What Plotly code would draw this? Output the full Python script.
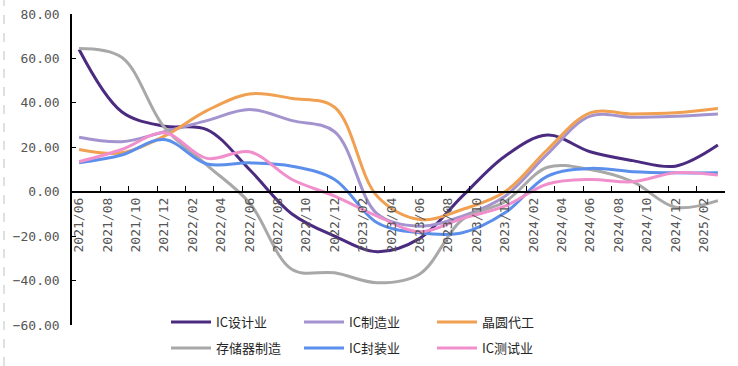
import plotly.graph_objects as go

# monthly category axis (tick labels every 2 months)
months = ["2021/06","2021/07","2021/08","2021/09","2021/10","2021/11","2021/12",
          "2022/01","2022/02","2022/03","2022/04","2022/05","2022/06","2022/07","2022/08","2022/09","2022/10","2022/11","2022/12",
          "2023/01","2023/02","2023/03","2023/04","2023/05","2023/06","2023/07","2023/08","2023/09","2023/10","2023/11","2023/12",
          "2024/01","2024/02","2024/03","2024/04","2024/05","2024/06","2024/07","2024/08","2024/09","2024/10","2024/11","2024/12",
          "2025/01","2025/02","2025/03"]

# quarterly observations
quarters = ["2021/06","2021/09","2021/12","2022/03","2022/06","2022/09","2022/12","2023/03",
            "2023/06","2023/09","2023/12","2024/03","2024/06","2024/09","2024/12","2025/03"]

ic_design   = [64, 36, 29.5, 28, 10, -10, -20, -27, -21, -2, 16, 25.5, 18, 14, 11.5, 21]
ic_mfg      = [24.5, 22.5, 27, 32, 37, 32, 27, -10, -15.5, -11, -2, 17, 34, 33.5, 34, 35]
foundry     = [19, 17.5, 25, 36.5, 44, 42, 38, -2, -12.5, -8, 0, 19, 35.5, 35, 35.5, 37.5]
memory      = [64.5, 60.5, 29, 12, -5, -35, -36.5, -41, -37, -12.5, -4.5, 11, 10, 4.5, -7, -4]
ic_package  = [13, 16.5, 23.5, 12.5, 13, 11.5, 5.5, -14, -18.5, -18.5, -9.5, 7, 10.5, 9, 8.5, 8.5]
ic_test     = [13.5, 19, 26.5, 15, 18, 5.5, -2, -11, -18, -12, -6.5, 3.5, 5.5, 4.5, 8.5, 7.5]

series = [
    ("IC设计业", ic_design, "#4B2B80", "legend"),
    ("IC制造业", ic_mfg, "#A393CF", "legend"),
    ("晶圆代工", foundry, "#F0A050", "legend"),
    ("存储器制造", memory, "#A8A8A8", "legend2"),
    ("IC封装业", ic_package, "#5B8FEB", "legend2"),
    ("IC测试业", ic_test, "#F08FCB", "legend2"),
]

fig = go.Figure()
for name, vals, color, lg in series:
    fig.add_trace(go.Scatter(
        x=quarters, y=vals, name=name, mode="lines",
        line=dict(color=color, width=3, shape="spline", smoothing=1.0),
        legend=lg,
    ))

W, H = 738, 366
tickfont = dict(family="DejaVu Sans Mono", size=13, color="#555555")
legfont = dict(family="Noto Sans CJK SC", size=13, color="#262626")

leg_common = dict(orientation="h", xref="container", yref="container",
                  xanchor="left", yanchor="middle", entrywidth=78,
                  font=legfont, bgcolor="rgba(0,0,0,0)", tracegroupgap=0,
                  itemwidth=40)

fig.update_layout(
    width=W, height=H,
    margin=dict(l=72, r=13, t=14, b=41, autoexpand=False),
    paper_bgcolor="white", plot_bgcolor="white",
    showlegend=True,
    legend=dict(x=166/W, y=1 - 322/H, **leg_common),
    legend2=dict(x=166/W, y=1 - 348/H, **leg_common),
    xaxis=dict(type="category", categoryorder="array", categoryarray=months,
               range=[-0.5, len(months) - 0.5],
               tickmode="linear", tick0=0, dtick=2, tickson="boundaries",
               ticks="inside", ticklen=5, tickcolor="black", tickwidth=1,
               tickangle=-90, tickfont=tickfont,
               showline=True, linecolor="black", linewidth=1.5,
               showgrid=False, zeroline=False,
               anchor="free", position=60/140),
    yaxis=dict(range=[-60, 80], tickmode="linear", tick0=-60, dtick=20,
               tickformat=".2f", ticks="inside", ticklen=4, tickcolor="black",
               tickfont=tickfont, ticklabelstandoff=8, ticklabeloverflow="allow",
               showline=True, linecolor="black", linewidth=1.5,
               showgrid=False, zeroline=False),
    shapes=[dict(type="line", xref="paper", yref="paper",
                 x0=(4-72)/653, x1=(4-72)/653, y0=-41/311, y1=(311+14)/311,
                 line=dict(color="#C0C0C0", width=1, dash="dash"))],
)

# remove the default 8px body margin so the 738x366 figure fills the window
fig.write_html("out.html", config={"displayModeBar": False},
               post_script="document.body.style.margin='0';")
